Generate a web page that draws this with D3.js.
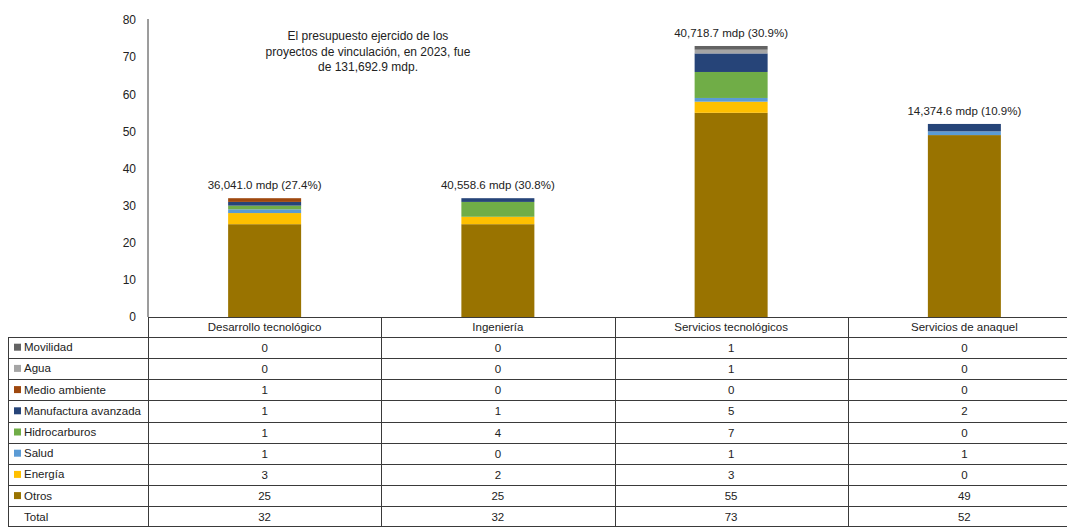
<!doctype html>
<html>
<head>
<meta charset="utf-8">
<script src="https://d3js.org/d3.v7.min.js"></script>
<style>
body { margin: 0; background: #fff; }
svg { font-family: "Liberation Sans", Arial, sans-serif; }
.tick-label { font-size: 12px; fill: #222; }
.cell { font-size: 11.5px; fill: #222; }
.grid { stroke: #3a3a3a; stroke-width: 1; shape-rendering: crispEdges; }
</style>
</head>
<body>
<svg width="1067" height="527" id="chart"></svg>

<script>
// categories (columns of the table / bars)
var categories = ["Desarrollo tecnológico", "Ingeniería", "Servicios tecnológicos", "Servicios de anaquel"];

// series in table order (top to bottom)
var series = ["Movilidad", "Agua", "Medio ambiente", "Manufactura avanzada", "Hidrocarburos", "Salud", "Energía", "Otros"];
var colors = ["#636363", "#a5a5a5", "#9e480e", "#264478", "#70ad47", "#5b9bd5", "#ffc000", "#997300"];

var movilidad     = [0, 0, 1, 0];
var agua          = [0, 0, 1, 0];
var medioAmbiente = [1, 0, 0, 0];
var manufactura   = [1, 1, 5, 2];
var hidrocarburos = [1, 4, 7, 0];
var salud         = [1, 0, 1, 1];
var energia       = [3, 2, 3, 0];
var otros         = [25, 25, 55, 49];
var totals        = [32, 32, 73, 52];

var budgetLabels = ["36,041.0 mdp (27.4%)", "40,558.6 mdp (30.8%)", "40,718.7 mdp (30.9%)", "14,374.6 mdp (10.9%)"];
var note = ["El presupuesto ejercido de los", "proyectos de vinculación, en 2023, fue", "de 131,692.9 mdp."];
var yTicks = [0, 10, 20, 30, 40, 50, 60, 70, 80];

var seriesValues = [movilidad, agua, medioAmbiente, manufactura, hidrocarburos, salud, energia, otros];

var svg = d3.select("#chart");

var x = d3.scaleBand().domain(categories).range([148, 1081]).paddingInner(0).paddingOuter(0);
var y = d3.scaleLinear().domain([0, 80]).range([317, 20]);
var barW = 73;

// rows of the data table
var rowNames = series.concat(["Total"]);
var rowY = d3.scaleBand().domain(rowNames).range([336.7, 336.7 + 9 * 21.2]);

// stacked data
var table = categories.map(function (c, i) {
  var o = { cat: c };
  series.forEach(function (s, j) { o[s] = seriesValues[j][i]; });
  return o;
});
var stack = d3.stack().keys(series.slice().reverse());
var layers = stack(table);

var g = svg.append("g");
g.selectAll("g.layer").data(layers).enter()
  .append("g")
  .attr("fill", function (d) { return colors[series.indexOf(d.key)]; })
  .selectAll("rect").data(function (d) { return d; }).enter()
  .append("rect")
  .attr("x", function (d) { return x(d.data.cat) + x.bandwidth() / 2 - barW / 2; })
  .attr("width", barW)
  .attr("y", function (d) { return y(d[1]); })
  .attr("height", function (d) { return y(d[0]) - y(d[1]); });

// labels above bars
svg.selectAll("text.bl").data(categories).enter()
  .append("text")
  .attr("class", "cell")
  .attr("text-anchor", "middle")
  .attr("x", function (d) { return x(d) + x.bandwidth() / 2; })
  .attr("y", function (d, i) { return y(totals[i]) - 9; })
  .text(function (d, i) { return budgetLabels[i]; });

// y axis
var yAxis = d3.axisLeft(y).tickValues(yTicks).tickSize(0).tickPadding(12);
var ya = svg.append("g").attr("transform", "translate(148,0)").call(yAxis);
ya.select(".domain").attr("stroke", "#3a3a3a").attr("d", "M0,19V317");
ya.selectAll("text").attr("class", "tick-label").attr("font-family", null).attr("font-size", null);

// note
svg.append("text")
  .attr("class", "tick-label")
  .attr("text-anchor", "middle")
  .selectAll("tspan").data(note).enter()
  .append("tspan")
  .attr("x", 368)
  .attr("y", function (d, i) { return 40 + i * 15.5; })
  .text(function (d) { return d; });

// table grid
var tg = svg.append("g");
tg.append("line").attr("class", "grid").attr("x1", 148).attr("x2", 1067).attr("y1", 317.5).attr("y2", 317.5);
rowNames.forEach(function (r) {
  tg.append("line").attr("class", "grid")
    .attr("x1", 8).attr("x2", 1067)
    .attr("y1", Math.round(rowY(r)) + 0.5).attr("y2", Math.round(rowY(r)) + 0.5);
});
tg.append("line").attr("class", "grid").attr("x1", 8).attr("x2", 1067)
  .attr("y1", 526.5).attr("y2", 526.5);
tg.append("line").attr("class", "grid").attr("x1", 8.5).attr("x2", 8.5)
  .attr("y1", rowY(series[0])).attr("y2", 527);
categories.forEach(function (c) {
  tg.append("line").attr("class", "grid")
    .attr("x1", Math.round(x(c)) + 0.5).attr("x2", Math.round(x(c)) + 0.5)
    .attr("y1", 317).attr("y2", 527);
});

// header
svg.selectAll("text.hd").data(categories).enter()
  .append("text")
  .attr("class", "cell")
  .attr("text-anchor", "middle")
  .attr("x", function (d) { return x(d) + x.bandwidth() / 2; })
  .attr("y", 331)
  .text(function (d) { return d; });

// legend column
var lg = svg.selectAll("g.lg").data(rowNames).enter().append("g")
  .attr("transform", function (d) { return "translate(0," + rowY(d) + ")"; });
lg.filter(function (d) { return d !== "Total"; })
  .append("rect")
  .attr("x", 14).attr("y", 7).attr("width", 7).attr("height", 7)
  .attr("fill", function (d) { return colors[series.indexOf(d)]; });
lg.append("text")
  .attr("class", "cell")
  .attr("x", 24).attr("y", 14.5)
  .text(function (d) { return d; });

// values
var rowsData = seriesValues.concat([totals]);
rowsData.forEach(function (vals, r) {
  svg.selectAll("text.v" + r).data(vals).enter()
    .append("text")
    .attr("class", "cell")
    .attr("text-anchor", "middle")
    .attr("x", function (d, i) { return x(categories[i]) + x.bandwidth() / 2; })
    .attr("y", rowY(rowNames[r]) + 15)
    .text(function (d) { return d; });
});
</script>
</body>
</html>
